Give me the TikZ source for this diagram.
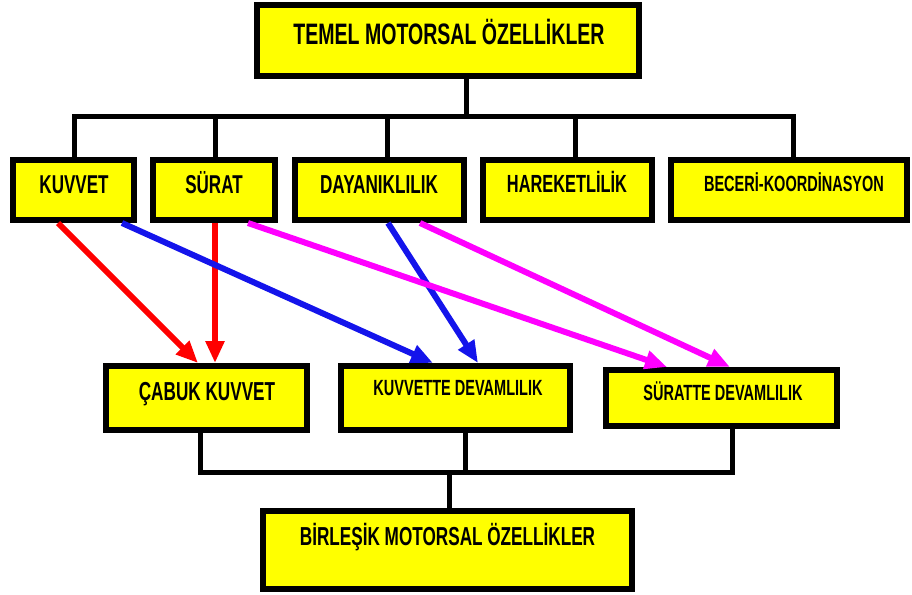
\documentclass[tikz,border=0pt]{standalone}
\usepackage{fontspec}
\newfontfamily\nf[FakeStretch=0.66]{Liberation Sans}
\usetikzlibrary{arrows.meta}
\definecolor{boxyellow}{RGB}{255,255,0}
\definecolor{arrred}{RGB}{255,0,0}
\definecolor{arrblue}{RGB}{20,20,235}
\definecolor{arrmag}{RGB}{255,0,255}
\tikzset{
  box/.style={draw=black, fill=boxyellow, line width=6pt, inner sep=0pt, rectangle},
  lbl/.style={anchor=base, inner sep=0pt, text=black},
  conn/.style={draw=black, line width=5pt, line cap=rect},
  arr/.style={line width=6pt, -{Triangle[length=22pt,width=18pt]}},
}
\begin{document}
\begin{tikzpicture}[x=1pt,y=-1pt]
\useasboundingbox (0,0) rectangle (912,594);
\coordinate (h0) at (466,116);
\coordinate (b1) at (74,116);
\coordinate (b2) at (215,116);
\coordinate (b3) at (387,116);
\coordinate (b4) at (575,116);
\coordinate (b5) at (793,116);
\coordinate (h1) at (449,472);
\coordinate (c1) at (200,472);
\coordinate (c2) at (465,472);
\coordinate (c3) at (732,472);
% boxes
\node[box, minimum width=382pt, minimum height=71pt] (top) at (448,40.5) {};
\node[box, minimum width=121pt, minimum height=60pt] (kuvvet) at (73.5,190) {};
\node[box, minimum width=122pt, minimum height=60pt] (surat) at (214,190) {};
\node[box, minimum width=169pt, minimum height=60pt] (dayan) at (379.5,190) {};
\node[box, minimum width=169pt, minimum height=60pt] (hareket) at (567.5,190) {};
\node[box, minimum width=236pt, minimum height=60pt] (beceri) at (789,190) {};
\node[box, minimum width=201pt, minimum height=64pt] (cabuk) at (206.5,398) {};
\node[box, minimum width=229pt, minimum height=64pt] (kdev) at (455.5,398) {};
\node[box, minimum width=231pt, minimum height=56pt] (sdev) at (721.5,398) {};
\node[box, minimum width=369pt, minimum height=78pt] (birles) at (447.5,550) {};
% tree lines
\draw[conn] (h0 |- top.south) -- (h0);
\draw[conn] (b1) -- (b5);
\draw[conn] (b1) -- (b1 |- kuvvet.north);
\draw[conn] (b2) -- (b2 |- surat.north);
\draw[conn] (b3) -- (b3 |- dayan.north);
\draw[conn] (b4) -- (b4 |- hareket.north);
\draw[conn] (b5) -- (b5 |- beceri.north);
\draw[conn] (c1 |- cabuk.south) -- (c1) -- (c3) -- (c3 |- sdev.south);
\draw[conn] (c2 |- kdev.south) -- (c2);
\draw[conn] (h1) -- (h1 |- birles.north);
% labels
\node[lbl, font=\nf\bfseries\fontsize{29.6}{30}\selectfont] at (449,45) {TEMEL MOTORSAL ÖZELLİKLER};
\node[lbl, font=\nf\bfseries\fontsize{25.8}{26}\selectfont] at (74,193) {KUVVET};
\node[lbl, font=\nf\bfseries\fontsize{25.8}{26}\selectfont] at (214,193) {SÜRAT};
\node[lbl, font=\nf\bfseries\fontsize{26}{26}\selectfont] at (379,193) {DAYANIKLILIK};
\node[lbl, font=\nf\bfseries\fontsize{24.8}{26}\selectfont] at (567,192) {HAREKETLİLİK};
\node[lbl, font=\nf\bfseries\fontsize{22}{22}\selectfont] at (794,191) {BECERİ-KOORDİNASYON};
\node[lbl, font=\nf\bfseries\fontsize{26}{26}\selectfont] at (207,400) {ÇABUK KUVVET};
\node[lbl, font=\nf\bfseries\fontsize{22}{22}\selectfont] at (458,395) {KUVVETTE DEVAMLILIK};
\node[lbl, font=\nf\bfseries\fontsize{22}{22}\selectfont] at (723,400) {SÜRATTE DEVAMLILIK};
\node[lbl, font=\nf\bfseries\fontsize{26}{26}\selectfont] at (447.5,545) {BİRLEŞİK MOTORSAL ÖZELLİKLER};
% arrows
\draw[arr, arrred] ([xshift=-15.5pt]kuvvet.south) -- ([xshift=-8.5pt]cabuk.north);
\draw[arr, arrred] ([xshift=1pt]surat.south) -- ([xshift=8.5pt]cabuk.north);
\draw[arr, arrblue] ([xshift=48.5pt]kuvvet.south) -- ([xshift=-22.5pt]kdev.north);
\draw[arr, arrblue] ([xshift=8.5pt]dayan.south) -- ([xshift=22.5pt]kdev.north);
\draw[arr, arrmag] ([xshift=34pt]surat.south) -- ([xshift=-54.5pt]sdev.north);
\draw[arr, arrmag] ([xshift=40.5pt]dayan.south) -- ([xshift=8.5pt]sdev.north);
\end{tikzpicture}
\end{document}
